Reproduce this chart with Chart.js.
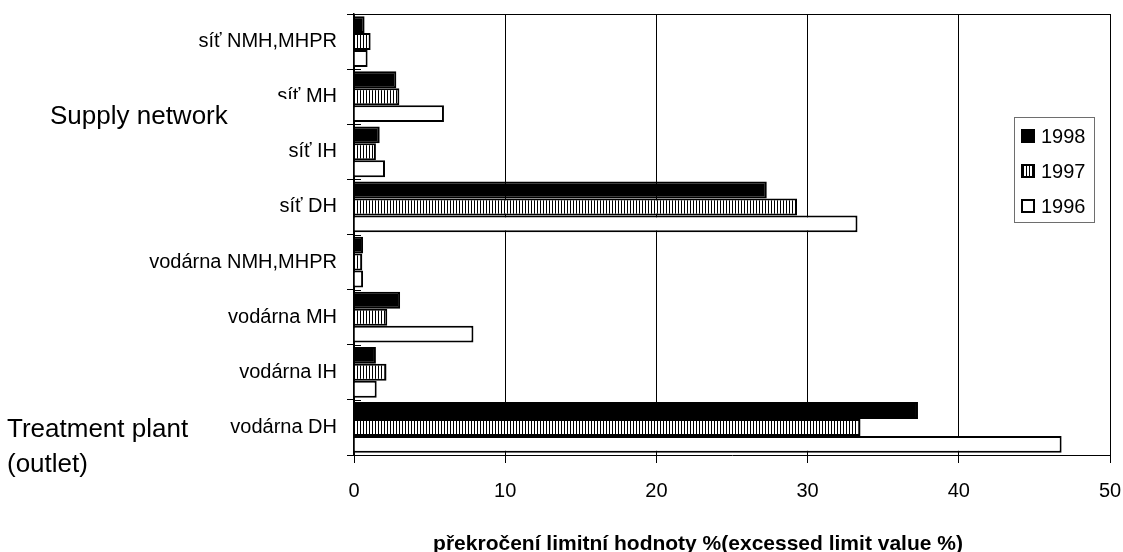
<!DOCTYPE html>
<html>
<head>
<meta charset="utf-8">
<script src="https://cdn.jsdelivr.net/npm/chart.js@4.4.0/dist/chart.umd.min.js"></script>
<style>
  html, body { margin: 0; padding: 0; background: #fff; }
  #wrap { width: 1123px; height: 552px; }
</style>
</head>
<body>
<div id="wrap"><canvas id="chart" width="1123" height="552"></canvas></div>
<script>
// data
const categories = ['síť NMH,MHPR', 'síť MH', 'síť IH', 'síť DH', 'vodárna NMH,MHPR', 'vodárna MH', 'vodárna IH', 'vodárna DH'];
const years = ['1998', '1997', '1996'];
const values1998 = [0.7, 2.8, 1.7, 27.3, 0.6, 3.05, 1.45, 37.3];
const values1997 = [1.1, 3.0, 1.45, 29.3, 0.55, 2.2, 2.15, 33.5];
const values1996 = [0.9, 5.95, 2.05, 33.3, 0.6, 7.9, 1.5, 46.8];
const xMin = 0, xMax = 50, xStep = 10;
const axisTitle = 'překročení limitní hodnoty %(excessed limit value %)';

const FONT = "'Liberation Sans', Arial, sans-serif";

// vertical hatch for 1997
function makeHatch() {
    const c = document.createElement('canvas');
    c.width = 3; c.height = 3;
    const g = c.getContext('2d');
    g.fillStyle = '#fff';
    g.fillRect(0, 0, 3, 3);
    g.fillStyle = '#000';
    g.fillRect(0, 0, 1, 3);
    return g.createPattern(c, 'repeat');
}
const hatch = makeHatch();
const fills = ['#000000', hatch, '#ffffff'];

// no automatic label padding, the layout padding decides
function noPad(s) {
    s.paddingTop = 0; s.paddingBottom = 0;
    s.paddingLeft = 0; s.paddingRight = 0;
}

// extra drawing: frame top line, inner y ticks, side labels, legend, axis title
const extras = {
    id: 'extras',
    afterDraw(chart) {
        const ctx = chart.ctx;
        const a = chart.chartArea;
        const ys = chart.scales.y;
        ctx.save();

        // top border of plot area
        ctx.strokeStyle = '#000';
        ctx.lineWidth = 1;
        ctx.beginPath();
        ctx.moveTo(a.left - 6, a.top + 0.5);
        ctx.lineTo(a.right, a.top + 0.5);
        ctx.stroke();

        // inside part of category ticks
        const step = (ys.bottom - ys.top) / categories.length;
        ctx.beginPath();
        for (let i = 0; i <= categories.length; i++) {
            const y = Math.round(ys.top + i * step) + 0.5;
            ctx.moveTo(a.left, y);
            ctx.lineTo(a.left + 7, y);
        }
        ctx.stroke();

        // group labels (text box covers part of the "síť MH" label)
        ctx.fillStyle = '#fff';
        ctx.fillRect(30, 99, 273, 40);
        ctx.fillStyle = '#000';
        ctx.font = '26px ' + FONT;
        ctx.textAlign = 'left';
        ctx.textBaseline = 'alphabetic';
        ctx.fillText('Supply network', 50, 124);
        ctx.fillText('Treatment plant', 7, 437);
        ctx.fillText('(outlet)', 7, 472);

        // axis title
        ctx.font = 'bold 21px ' + FONT;
        ctx.textAlign = 'center';
        ctx.fillText(axisTitle, 698, 550);

        // legend
        ctx.fillStyle = '#fff';
        ctx.fillRect(1014, 117, 80, 105);
        ctx.strokeStyle = '#6e6e6e';
        ctx.lineWidth = 1;
        ctx.strokeRect(1014.5, 117.5, 80, 105);
        ctx.font = '20px ' + FONT;
        ctx.textAlign = 'left';
        ctx.textBaseline = 'middle';
        const rowY = [136, 171, 206];
        chart.data.datasets.forEach((ds, i) => {
            const y = rowY[i];
            ctx.fillStyle = ds.backgroundColor;
            ctx.fillRect(1021, y - 7, 14, 14);
            ctx.strokeStyle = '#000';
            ctx.lineWidth = 2;
            ctx.strokeRect(1022, y - 6, 12, 12);
            ctx.fillStyle = '#000';
            ctx.fillText(ds.label, 1041, y + 1);
        });

        ctx.restore();
    }
};

new Chart(document.getElementById('chart'), {
    type: 'bar',
    data: {
        labels: categories,
        datasets: [
            { label: years[0], data: values1998 },
            { label: years[1], data: values1997 },
            { label: years[2], data: values1996 }
        ].map((ds, i) => Object.assign(ds, {
            backgroundColor: fills[i],
            borderColor: '#000',
            borderWidth: 2,
            borderSkipped: 'start',
            barPercentage: 1,
            categoryPercentage: 0.92
        }))
    },
    options: {
        indexAxis: 'y',
        responsive: false,
        animation: false,
        layout: { padding: { top: 14, right: 13, left: 0, bottom: 0 } },
        plugins: {
            legend: { display: false },
            tooltip: { enabled: false }
        },
        scales: {
            x: {
                min: xMin,
                max: xMax,
                ticks: { stepSize: xStep, color: '#000', padding: 16, font: { family: FONT, size: 20 } },
                grid: { color: '#000', lineWidth: 1, tickLength: 8 },
                border: { color: '#000', width: 1 },
                afterFit: (s) => { s.height = 97; noPad(s); }
            },
            y: {
                ticks: { color: '#000', padding: 10, font: { family: FONT, size: 20 } },
                grid: { drawOnChartArea: false, color: '#000', tickLength: 7 },
                border: { color: '#000', width: 1.5 },
                afterFit: (s) => { s.width = 354; noPad(s); }
            }
        }
    },
    plugins: [extras]
});
</script>
</body>
</html>
